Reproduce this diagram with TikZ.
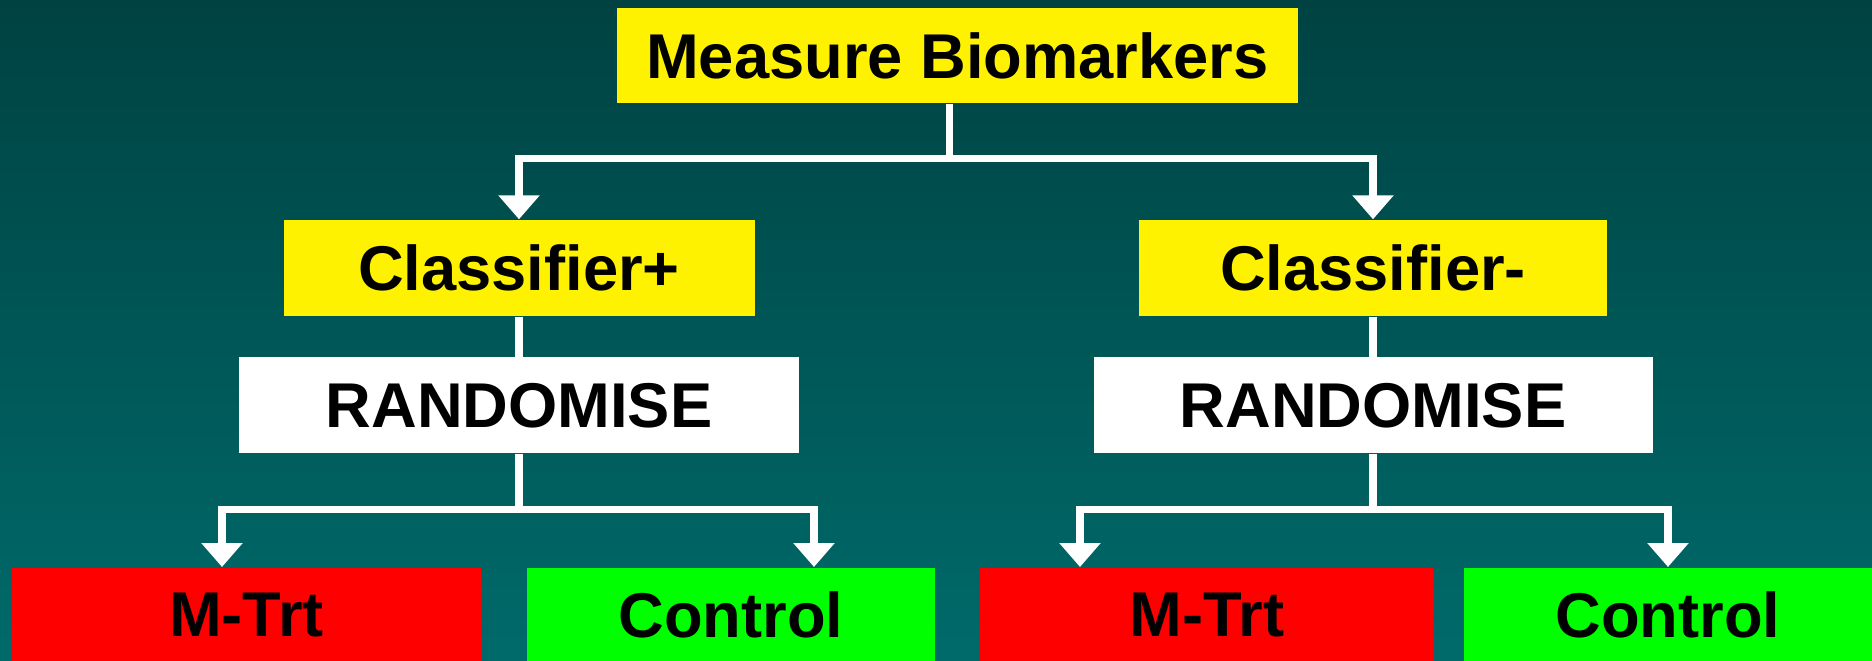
\documentclass[tikz,border=0pt]{standalone}
\usepackage{fontspec}
\setmainfont{Liberation Sans}
\usetikzlibrary{positioning}
\usetikzlibrary{arrows.meta}

\definecolor{bgtop}{RGB}{0,66,66}
\definecolor{bgbottom}{RGB}{0,106,106}

\begin{document}
\begin{tikzpicture}[font=\fontsize{18}{20}\selectfont\bfseries]
        \tikzstyle{node_style} = [rectangle, inner sep=0pt, minimum height=0.96cm, text=black]
        \tikzstyle{line_style} = [white, line width=2pt]
        \tikzstyle{arrow_style1} = [-{Triangle[width=0.4cm, length=0.24cm]}, white, line width=2pt]

        \shade[top color=bgtop, bottom color=bgbottom] (0,0) rectangle (18.72,-6.61);
        \useasboundingbox (0,0) rectangle (18.72,-6.61);

        \node[node_style, fill=yellow, minimum width=6.81cm, minimum height=0.95cm] (n1) at (9.575,-0.555) {Measure Biomarkers};
        \node[node_style, fill=yellow, minimum width=4.71cm] (n2) at (5.19,-2.68) {Classifier+};
        \node[node_style, fill=yellow, minimum width=4.68cm] (n3) at (13.73,-2.68) {Classifier-};
        \node[node_style, fill=white, minimum width=5.60cm] (n4) [below=0.4cm of n2] {RANDOMISE};
        \node[node_style, fill=white, minimum width=5.59cm] (n5) [below=0.4cm of n3] {RANDOMISE};

        \node[node_style, fill=red, minimum width=4.69cm, minimum height=0.94cm, anchor=north] (n6) at (2.465,-5.67) {M-Trt};
        \node[node_style, fill=green, minimum width=4.08cm, minimum height=0.94cm, anchor=north] (n7) at (7.31,-5.67) {Control};
        \node[node_style, fill=red, minimum width=4.54cm, minimum height=0.94cm, anchor=north] (n8) at (12.07,-5.67) {M-Trt};
        \node[node_style, fill=green, minimum width=4.08cm, minimum height=0.94cm, anchor=north] (n9) at (16.68,-5.67) {Control};

        \draw [line_style] ([xshift=-0.08cm]n1.south) -- ++(0,-0.55) coordinate (top);
        \draw [arrow_style1] (top) -| (n2.north);
        \draw [arrow_style1] (top) -| (n3.north);

        \draw [line_style] (n2) -- (n4);
        \draw [line_style] (n3) -- (n5);

        \draw [line_style] (n4.south) -- ++(0,-0.55) coordinate (left);
        \draw [arrow_style1] (left) -| ([xshift=-0.245cm]n6.north);
        \draw [arrow_style1] (left) -| ([xshift=0.83cm]n7.north);

        \draw [line_style] (n5.south) -- ++(0,-0.55) coordinate (right);
        \draw [arrow_style1] (right) -| ([xshift=-1.27cm]n8.north);
        \draw [arrow_style1] (right) -| (n9.north);

    \end{tikzpicture}
\end{document}
